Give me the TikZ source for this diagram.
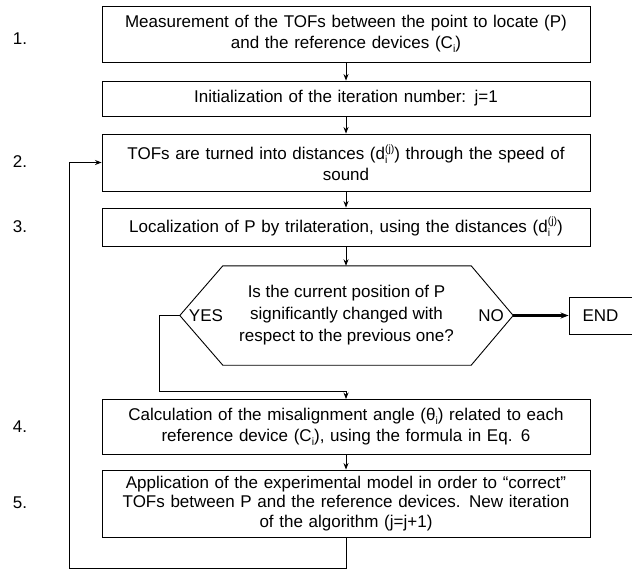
\documentclass[tikz,border=0pt]{standalone}
\usepackage{fontspec}
\setmainfont{Liberation Sans}
\usetikzlibrary{arrows.meta,calc}
\newcommand{\smallidx}[1]{{\fontsize{10.5}{10.5}\selectfont #1}}
\newcommand{\subi}{\raisebox{-0.45ex}{\smallidx{i}}}
\newcommand{\dij}{d\rlap{\subi}\raisebox{0.85ex}{\smallidx{(j)}}}
\begin{document}
\begin{tikzpicture}[x=1pt,y=-1pt,
  every node/.style={font=\fontsize{17}{20.5}\selectfont},
  stepbox/.style={draw, line width=0.9pt, minimum width=488pt, text width=482pt, align=center, inner sep=0pt},
  numlab/.style={anchor=center},
  arr/.style={line width=0.9pt, -{Stealth[length=6.5pt,width=5pt]}},
  ln/.style={line width=0.9pt}]
\useasboundingbox (0,0) rectangle (632,570);

\node[stepbox, minimum height=56pt] (b1) at (346,34) {Measurement of the TOFs between the point to locate (P)\\ and the reference devices (C\subi)};
\node[stepbox, minimum height=35pt] (b2) at (346,98.5) {Initialization of the iteration number: j=1};
\node[stepbox, minimum height=57pt] (b3) at (346,162.5) {TOFs are turned into distances (\dij) through the speed of\\ sound};
\node[stepbox, minimum height=38pt] (b4) at (346,227) {Localization of P by trilateration, using the distances (\dij)};
\node[minimum width=333pt, minimum height=99pt, inner sep=0pt, align=center, font=\fontsize{17}{22}\selectfont] (dec) at (346.5,315.5) {Is the current position of P\\ significantly changed with\\ respect to the previous one?};
\draw[ln] (dec.west) -- ($(dec.north west)+(43,0)$) -- ($(dec.north east)+(-42,0)$) -- (dec.east)
  -- ($(dec.south east)+(-42,0)$) -- ($(dec.south west)+(43,0)$) -- cycle;
\node (yes) at (206,316) {YES};
\node (no) at (491,316) {NO};
\node[draw, line width=0.9pt, minimum width=63pt, minimum height=37pt, inner sep=0pt] (end) at (600.5,315.5) {END};
\node[stepbox, minimum height=55pt] (b5) at (346,427) {Calculation of the misalignment angle (θ\subi) related to each\\ reference device (C\subi), using the formula in Eq. 6};
\node[stepbox, minimum height=67pt, font=\fontsize{17}{19.5}\selectfont] (b6) at (346,503.5) {Application of the experimental model in order to “correct”\\ TOFs between P and the reference devices. New iteration\\ of the algorithm (j=j+1)};

\node[numlab] (n1) at (20,39) {1.};
\node[numlab] (n2) at (20,162) {2.};
\node[numlab] (n3) at (20,227) {3.};
\node[numlab] (n4) at (20,427) {4.};
\node[numlab] (n5) at (20,503) {5.};

\coordinate (yb) at (159,391);
\coordinate (lb) at (69,568);

\draw[arr] (b1) -- (b2);
\draw[arr] (b2) -- (b3);
\draw[arr] (b3) -- (b4);
\draw[arr] (b4.south) -- (b4.south |- dec.north);
\draw[line width=2.2pt, -{Stealth[length=8pt,width=6pt]}] (dec.east) -- (end.west);
\draw[arr] (dec.west) -| (yb) -| (b5.north);
\draw[arr] (b5) -- (b6);
\draw[arr] (b6.south) |- (lb) |- (b3.west);
\end{tikzpicture}
\end{document}
